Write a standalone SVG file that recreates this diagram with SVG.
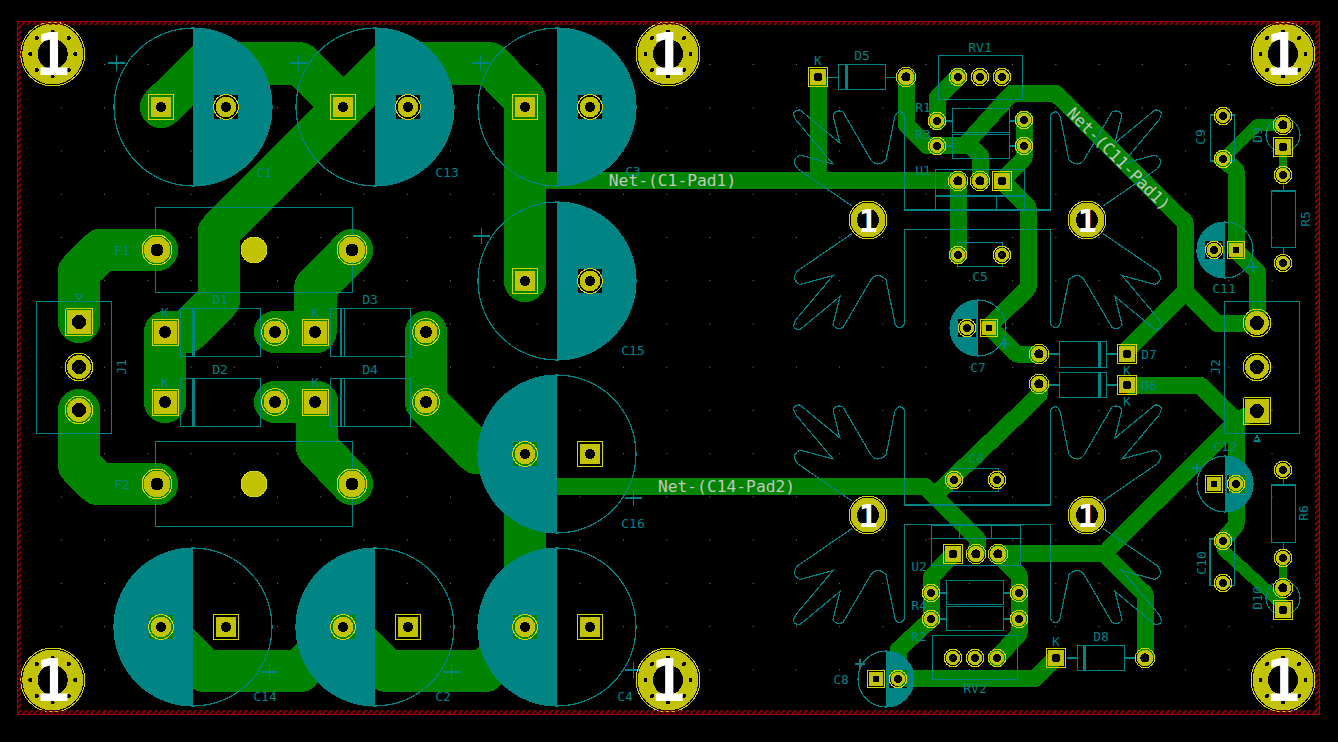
<svg xmlns="http://www.w3.org/2000/svg" xmlns:xlink="http://www.w3.org/1999/xlink" width="1338" height="742" viewBox="0 0 1338 742" shape-rendering="crispEdges">
<style>
.trk{fill:none;stroke:#008400;stroke-linecap:round;stroke-linejoin:round}
.w42{stroke-width:42.5}.w17{stroke-width:17}.w12{stroke-width:12}.w8{stroke-width:8.5}
.sk{fill:none;stroke:#008484;stroke-width:1.2}
.tf{fill:#008484}
.cut{fill:#000}
.grn{fill:#008400}
.rg{fill:none;stroke:#D4D400;stroke-width:1}
.pf{fill:#C2C200}
.h{fill:#000}
.t{font-family:"DejaVu Sans Mono","Liberation Mono",monospace;font-size:13px;fill:#008484;text-anchor:middle;dominant-baseline:central}
.net{font-family:"DejaVu Sans Mono","Liberation Mono",monospace;font-size:16.3px;fill:#C0C8C0;text-anchor:middle;dominant-baseline:central}
.one{font-family:"DejaVu Sans Mono","Liberation Mono",monospace;fill:#fff;text-anchor:middle;font-weight:bold}
</style>
<defs>
<pattern id="grid" x="17.6" y="20.8" width="43.24" height="43.24" patternUnits="userSpaceOnUse"><rect x="0" y="0" width="1.4" height="1.4" fill="#848484"/></pattern>
<pattern id="hatch" width="4" height="4" patternUnits="userSpaceOnUse" patternTransform="rotate(45)"><rect width="2" height="4" fill="#8C0000"/></pattern>
<g id="rs"><circle r="8.7" class="rg"/><circle r="7.2" class="pf"/><circle r="3.8" class="h"/></g>
<g id="rm"><circle r="9.7" class="rg"/><circle r="8.2" class="pf"/><circle r="4.6" class="h"/></g>
<g id="rc"><circle r="12.3" class="rg"/><circle r="10.3" class="pf"/><circle r="5" class="h"/></g>
<g id="rd"><circle r="13.3" class="rg"/><circle r="11.5" class="pf"/><circle r="6" class="h"/></g>
<g id="rb"><circle r="15" class="rg"/><circle r="13.3" class="pf"/><circle r="6.5" class="h"/></g>
<g id="rj"><circle r="13.8" class="rg"/><circle r="12" class="pf"/><circle r="7" class="h"/></g>
<g id="sq"><rect x="-9.7" y="-9.7" width="19.400" height="19.400" class="rg"/><rect x="-8.2" y="-8.200" width="16.400" height="16.400" class="pf"/><circle r="4.5" class="h"/></g>
<g id="ss"><rect x="-8.8" y="-8.8" width="17.600" height="17.600" class="rg"/><rect x="-7.3" y="-7.300" width="14.600" height="14.600" class="pf"/><circle r="3.5" class="h"/></g>
<g id="sc"><rect x="-12.5" y="-12.5" width="25" height="25" class="rg"/><rect x="-10.300" y="-10.300" width="20.600" height="20.600" class="pf"/><circle r="5" class="h"/></g>
<g id="sd"><rect x="-13" y="-13" width="26" height="26" class="rg"/><rect x="-11.500" y="-11.500" width="23" height="23" class="pf"/><circle r="6" class="h"/></g>
<g id="sj"><rect x="-13.5" y="-13.5" width="27" height="27" rx="1.5" class="rg"/><rect x="-12" y="-12" width="24" height="24" class="pf"/><circle r="7" class="h"/></g>
<g id="m2"><circle r="32" class="rg"/><circle r="30.5" class="pf"/><circle r="15" class="h"/>
<g class="h"><circle cx="22.500" r="2"/><circle cx="-22.500" r="2"/><circle cy="22.500" r="2"/><circle cy="-22.500" r="2"/><circle cx="16" cy="16" r="2"/><circle cx="-16" cy="16" r="2"/><circle cx="16" cy="-16" r="2"/><circle cx="-16" cy="-16" r="2"/></g>
<text class="one" y="21" font-size="58">1</text></g>
<g id="m1"><circle r="19" class="rg"/><circle r="17.500" class="pf"/><circle r="11" class="h"/><text class="one" y="11.5" font-size="32">1</text></g>
<path id="fin" class="sk" d="M852 206L798 169Q790 160 800 155L833 164L796 120Q790 110 800 110L840 143L833 115Q836 109 843 112L871 160Q877 168 886 160L895 116Q899 108 904.3 115V210H977.5"/>
<g id="hs"><use xlink:href="#fin" href="#fin"/><use xlink:href="#fin" href="#fin" transform="translate(1955,0) scale(-1,1)"/><use xlink:href="#fin" href="#fin" transform="translate(0,439.5) scale(1,-1)"/><use xlink:href="#fin" href="#fin" transform="translate(1955,439.5) scale(-1,-1)"/></g>
</defs>
<rect width="1338" height="742" fill="#000"/>
<rect id="grid-dots" x="17" y="21" width="1302" height="693" fill="url(#grid)"/>
<g id="connectors">
<g id="tracks-wide" class="trk w42">
<path d="M161 107L205 63.5H300L343 107L387 63.5H490L525 100V281"/>
<path d="M343 107L219 232V300L187 332H165V402"/>
<path d="M79 322V272L101 250H157"/>
<path d="M79 410V465L98 484H157"/>
<path d="M352 250L315.500 287V332H275"/>
<path d="M275 402H317V447L352 484"/>
<path d="M426 332V402L477 453H525V627"/>
<path d="M161 627L205 671H300L343 627L387 671H485L525 627"/>
</g>
<g id="tracks" class="trk w17">
<path d="M525 180H958"/>
<path d="M818 77V180"/>
<path d="M547 486.500H925L978 540L976 554"/>
<path d="M1039 384V395L940 490"/>
<path d="M958 181V255"/>
<path d="M1002 181L1028 207V288L989 327L1017 354H1039"/>
<path d="M980.500 181V156L970 145.500H927L906.500 125V77"/>
<path d="M958 77L937 98V121"/>
<path d="M1024 120V158L1002 181"/>
<path d="M965 145L1012 93H1055L1185 222V292L1127 350"/>
<path d="M1185 292L1217 323.500H1257.500V272L1236 250V170L1222.700 159"/>
<path d="M1127 385H1200L1236 421L1257 411"/>
<path d="M1108 550L1236 422V525L1222.700 541"/>
<path d="M998 553.500H1104L1145 594V658"/>
<path d="M953 554L931.500 577V619L898 650V678"/>
<path d="M998 554L1019 575V634L997 658"/>
<path d="M898 678.500H1035L1056 658"/>
</g>
<g class="trk w12"><path d="M1283 125H1257L1222 160"/><path d="M1223 541V550L1283 605"/></g>
<g class="trk w8"><path d="M1283 147V175"/><path d="M1283 558V588"/></g>
</g>
<g id="copper-halves" class="tf">
<path d="M193 28A79 79 0 0 1 193 186Z"/><path d="M375 28A79 79 0 0 1 375 186Z"/><path d="M557 28A79 79 0 0 1 557 186Z"/><path d="M557 202A79 79 0 0 1 557 360Z"/>
<path d="M557 375A79 79 0 0 0 557 533Z"/><path d="M193 548A79 79 0 0 0 193 706Z"/><path d="M375 548A79 79 0 0 0 375 706Z"/><path d="M557 548A79 79 0 0 0 557 706Z"/>
<path d="M1225 222A28 28 0 0 0 1225 278Z"/><path d="M978 300A28 28 0 0 0 978 356Z"/><path d="M1225 456A28 28 0 0 1 1225 512Z"/><path d="M886 651A28 28 0 0 1 886 707Z"/>
</g>
<g id="clearance" class="cut">
<rect x="214" y="95" width="24" height="24"/><rect x="396" y="95" width="24" height="24"/><rect x="578" y="95" width="24" height="24"/><rect x="578" y="269" width="24" height="24"/>
<rect x="1205" y="241" width="18" height="18"/><rect x="958" y="319" width="18" height="18"/><rect x="1227" y="475" width="18" height="18"/><rect x="889" y="670" width="18" height="18"/>
</g>
<g id="pad-reliefs" class="grn">
<rect x="513" y="442" width="24" height="24"/><rect x="149" y="615" width="24" height="24"/><rect x="331" y="615" width="24" height="24"/><rect x="513" y="615" width="24" height="24"/>
<rect x="1229" y="475" width="16" height="18"/><rect x="889" y="670" width="18" height="8"/><rect x="898" y="670" width="9" height="17"/>
</g>
<g id="outlines" class="sk">
<circle cx="193" cy="107" r="79"/><circle cx="375" cy="107" r="79"/><circle cx="557" cy="107" r="79"/><circle cx="557" cy="281" r="79"/><circle cx="557" cy="454" r="79"/><circle cx="193" cy="627" r="79"/><circle cx="375" cy="627" r="79"/><circle cx="557" cy="627" r="79"/>
<circle cx="1225" cy="250" r="28"/><circle cx="978" cy="328" r="28"/><circle cx="1225" cy="484" r="28"/><circle cx="886" cy="679" r="28"/>
<circle cx="1283" cy="135" r="17"/><circle cx="1283" cy="598" r="17"/>
<path d="M108 63H125M116.500 55V71M290 63H307M298.500 55V71M472 63H489M480.500 55V71M473 236H490M481.500 228V244M625 498H642M633.500 490V506M261 672H278M269.500 664V680M443 672H460M451.500 664V680M625 670H642M633.500 662V678"/>
<path d="M1000 344H1010M1005 339V349M1248 267H1258M1253 262V272M1192 468H1202M1197 463V473M855 664H865M860 659V669"/>
<rect x="155.300" y="207.300" width="197" height="85"/><rect x="155.300" y="441.300" width="197" height="85"/>
<rect x="180.300" y="308.300" width="80.400" height="48.400"/><rect x="180.300" y="378.300" width="80.400" height="48.400"/><rect x="330.300" y="308.300" width="80.400" height="48.400"/><rect x="330.300" y="378.300" width="80.400" height="48.400"/>
<path d="M341 308.300V356.700M344.300 308.300V356.700M341 378.300V426.700M344.300 378.300V426.700"/>
<rect x="36.300" y="301.300" width="75.400" height="132"/><rect x="1224.300" y="301.300" width="75.400" height="132"/>
<path d="M76 294.500H82L79 300ZM1254 441H1260L1257 435.500Z"/>
<rect x="838.300" y="64.300" width="47.400" height="25"/><path d="M828 77.500H838.300M885.700 77.500H896"/>
<rect x="1077.300" y="645.300" width="47.400" height="25.400"/><path d="M1067 658H1077.300M1124.700 658H1135"/>
<rect x="1059.300" y="341.300" width="47.400" height="26"/><path d="M1049 354H1059.300M1106.700 354H1117"/>
<rect x="1059.300" y="372.300" width="47.400" height="25.400"/><path d="M1049 385H1059.300M1106.700 385H1117"/>
<rect x="938.300" y="55.300" width="84.400" height="44"/><rect x="932.300" y="635.300" width="85" height="44"/>
<rect x="952.300" y="108.300" width="57.400" height="24.400"/><rect x="952.300" y="134.300" width="57.400" height="24.400"/><path d="M946 121H952.300M1009.700 121H1015M946 146H952.300M1009.700 146H1015"/>
<rect x="946.300" y="580.300" width="57.400" height="24.400"/><rect x="946.300" y="606.300" width="57.400" height="24.400"/><path d="M940 593H946.300M1003.700 593H1010M940 619H946.300M1003.700 619H1010"/>
<rect x="935.300" y="169.300" width="89" height="40.400"/><path d="M935.300 196H1024.300M963.300 196V209.700M996.300 196V209.700"/>
<rect x="931.700" y="525" width="88.600" height="40.300"/><path d="M931.700 538.300H1020.300M959.300 525V538.300M991.300 525V538.300"/>
<rect x="957.300" y="242.300" width="45.400" height="24.400"/><rect x="952" y="468.300" width="46.700" height="23.400"/>
<rect x="1210.300" y="115" width="24.400" height="46"/><rect x="1210" y="539" width="24.300" height="46.700"/>
<rect x="1271.300" y="191" width="24.400" height="56.300"/><path d="M1283.500 183V191M1283.500 247.300V255"/>
<rect x="1271.300" y="485" width="24.400" height="57.300"/><path d="M1283.500 478V485M1283.500 542.300V550"/>
<use xlink:href="#hs" href="#hs"/><use xlink:href="#hs" href="#hs" transform="translate(0,295)"/>
</g>
<g id="diode-bands" class="tf">
<rect x="192" y="308.300" width="3" height="48.400"/><rect x="192" y="378.300" width="3" height="48.400"/>
<rect x="845" y="64.300" width="3" height="25"/><rect x="1082.700" y="645.300" width="3.300" height="25.400"/><rect x="1098.300" y="341.300" width="2.700" height="26"/><rect x="1098.300" y="372.300" width="2.700" height="25.400"/>
</g>
<g id="pads">
<use href="#sc" x="161" y="107"/><use href="#rc" x="226" y="107"/><use href="#sc" x="343" y="107"/><use href="#rc" x="408" y="107"/><use href="#sc" x="525" y="107"/><use href="#rc" x="590" y="107"/><use href="#sc" x="525" y="281"/><use href="#rc" x="590" y="281"/>
<use href="#rc" x="525" y="454"/><use href="#sc" x="590" y="454"/><use href="#rc" x="161" y="627"/><use href="#sc" x="226" y="627"/><use href="#rc" x="343" y="627"/><use href="#sc" x="408" y="627"/><use href="#rc" x="525" y="627"/><use href="#sc" x="590" y="627"/>
<use href="#rb" x="157" y="250"/><use href="#rb" x="352" y="250"/><use href="#rb" x="157" y="484"/><use href="#rb" x="352" y="484"/>
<g class="pf" stroke="#D4D400"><circle cx="254" cy="250" r="13"/><circle cx="254" cy="484" r="13"/></g>
<use href="#sj" x="79" y="322"/><use href="#rj" x="79" y="367"/><use href="#rj" x="79" y="410"/>
<use href="#sd" x="165" y="332"/><use href="#sd" x="165" y="402"/><use href="#sd" x="315" y="332"/><use href="#sd" x="315" y="402"/>
<use href="#rd" x="275" y="332"/><use href="#rd" x="275" y="402"/><use href="#rd" x="426" y="332"/><use href="#rd" x="426" y="402"/>
<use href="#sj" x="1257" y="411"/><use href="#rj" x="1257" y="367"/><use href="#rj" x="1257" y="323"/>
<use href="#sq" x="818" y="77"/><use href="#rm" x="906" y="77"/><use href="#rs" x="958" y="77"/><use href="#rs" x="980" y="77"/><use href="#rs" x="1002" y="77"/>
<use href="#rs" x="937" y="121"/><use href="#rs" x="937" y="146"/><use href="#rs" x="1024" y="120"/><use href="#rs" x="1024" y="146"/>
<use href="#rm" x="958" y="181"/><use href="#rm" x="980" y="181"/><use href="#sq" x="1002" y="181"/><use href="#rs" x="958" y="255"/><use href="#rs" x="1002" y="255"/>
<use href="#rs" x="967" y="328"/><use href="#ss" x="989" y="328"/><use href="#rm" x="1039" y="354"/><use href="#rm" x="1039" y="384"/><use href="#sq" x="1127" y="354"/><use href="#sq" x="1127" y="385"/>
<use href="#rs" x="954" y="480"/><use href="#rs" x="997" y="480"/><use href="#sq" x="953" y="554"/><use href="#rm" x="976" y="554"/><use href="#rm" x="998" y="554"/>
<use href="#rs" x="931" y="593"/><use href="#rs" x="931" y="619"/><use href="#rs" x="1019" y="593"/><use href="#rs" x="1019" y="619"/>
<use href="#rs" x="953" y="658"/><use href="#rs" x="975" y="658"/><use href="#rs" x="997" y="658"/><use href="#ss" x="876" y="679"/><use href="#rs" x="898" y="679"/><use href="#sq" x="1056" y="658"/><use href="#rm" x="1145" y="658"/>
<use href="#rs" x="1223" y="116"/><use href="#rs" x="1223" y="159"/><use href="#rm" x="1283" y="125"/><use href="#sq" x="1283" y="147"/><use href="#rs" x="1283" y="175"/><use href="#rs" x="1283" y="263"/>
<use href="#rs" x="1214" y="250"/><use href="#ss" x="1236" y="250"/><use href="#ss" x="1214" y="484"/><use href="#rs" x="1236" y="484"/>
<use href="#rs" x="1223" y="541"/><use href="#rs" x="1223" y="583"/><use href="#rs" x="1283" y="470"/><use href="#rs" x="1283" y="558"/><use href="#rm" x="1283" y="588"/><use href="#sq" x="1283" y="610"/>
</g>
<g id="mounting-holes">
<use href="#m2" x="52.700" y="54"/><use href="#m2" x="668" y="54"/><use href="#m2" x="1283" y="54"/><use href="#m2" x="52.700" y="680"/><use href="#m2" x="668" y="680"/><use href="#m2" x="1283" y="680"/>
<use href="#m1" x="868" y="220"/><use href="#m1" x="1087" y="220"/><use href="#m1" x="868" y="515"/><use href="#m1" x="1087" y="515"/>
</g>
<g id="labels">
<text class="t" x="264" y="172">C1</text><text class="t" x="447" y="172">C13</text><text class="t" x="633" y="171">C3</text><text class="t" x="633" y="350">C15</text><text class="t" x="633" y="523">C16</text><text class="t" x="265" y="696">C14</text><text class="t" x="443" y="696">C2</text><text class="t" x="625" y="696">C4</text>
<text class="t" x="122" y="250">F1</text><text class="t" x="122" y="484">F2</text><text class="t" transform="translate(121,367) rotate(-90)">J1</text>
<text class="t" x="165" y="312">K</text><text class="t" x="165" y="382">K</text><text class="t" x="315" y="312">K</text><text class="t" x="315" y="382">K</text>
<text class="t" x="220" y="299">D1</text><text class="t" x="220" y="369">D2</text><text class="t" x="370" y="299">D3</text><text class="t" x="370" y="369">D4</text>
<text class="t" x="818" y="60">K</text><text class="t" x="862" y="55">D5</text><text class="t" x="980" y="47">RV1</text><text class="t" x="923" y="107">R1</text><text class="t" x="923" y="134">R3</text><text class="t" x="923" y="170">U1</text>
<text class="t" x="980" y="276">C5</text><text class="t" x="978" y="367">C7</text><text class="t" x="976" y="458">C6</text><text class="t" x="919" y="566">U2</text><text class="t" x="919" y="605">R4</text><text class="t" x="919" y="636">R2</text><text class="t" x="975" y="688">RV2</text><text class="t" x="1056" y="641">K</text><text class="t" x="1101" y="636">D8</text><text class="t" x="841" y="679">C8</text>
<text class="t" x="1149" y="354">D7</text><text class="t" x="1149" y="385">D6</text><text class="t" x="1127" y="370">K</text><text class="t" x="1127" y="401">K</text><text class="t" x="1224" y="288">C11</text><text class="t" x="1225" y="446">C12</text>
<text class="t" transform="translate(1200,137) rotate(-90)">C9</text><text class="t" transform="translate(1257,135) rotate(-90)">D9</text><text class="t" transform="translate(1305,219) rotate(-90)">R5</text><text class="t" transform="translate(1215,367) rotate(-90)">J2</text><text class="t" transform="translate(1303,513) rotate(-90)">R6</text><text class="t" transform="translate(1201,563) rotate(-90)">C10</text><text class="t" transform="translate(1257,598) rotate(-90)">D10</text>
<text class="net" x="672.500" y="180.500">Net-(C1-Pad1)</text><text class="net" x="726.500" y="486.500">Net-(C14-Pad2)</text><text class="net" transform="translate(1118.500,159) rotate(45)">Net-(C11-Pad1)</text>
</g>
<g id="board-edge" fill="none">
<rect x="19" y="23" width="1298" height="689" stroke="url(#hatch)" stroke-width="4"/>
<rect x="17" y="21" width="1302" height="693" stroke="#A00000" stroke-width="1"/>
</g>
</svg>
